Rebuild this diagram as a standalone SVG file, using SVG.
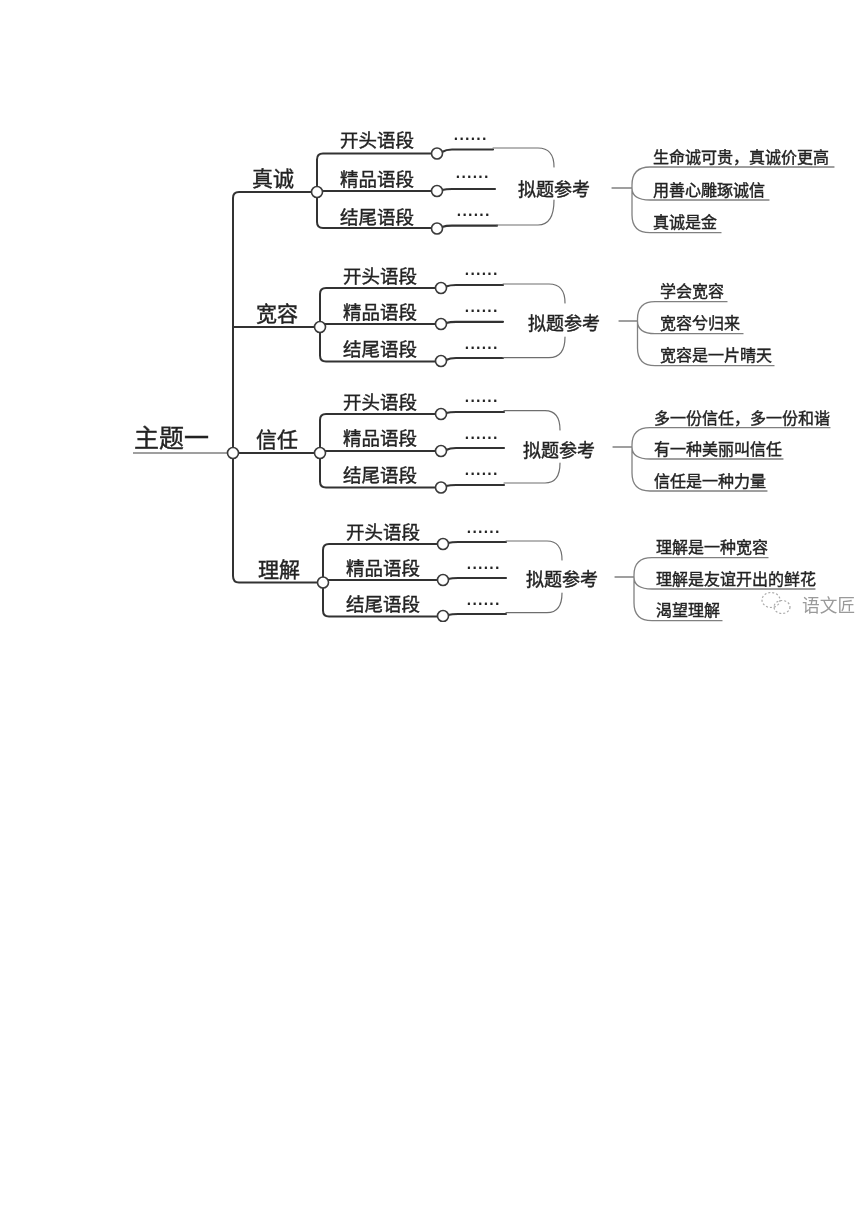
<svg xmlns="http://www.w3.org/2000/svg" width="860" height="1216" viewBox="0 0 860 1216">
<defs>
<style>
text{font-family:"Noto Sans CJK SC","Noto Sans",sans-serif;fill:#222;stroke:#222;stroke-width:.4px}
.root{font-size:25px}
.b{font-size:21px}
.s{font-size:18.500px}
.t{font-size:18px}
.l{font-size:16px}
.d{font-family:"Liberation Sans",sans-serif;font-size:14px;font-weight:700;letter-spacing:1.750px;stroke-width:.2px}
.thick{fill:none;stroke:#333;stroke-width:2;stroke-linecap:round;stroke-linejoin:round}
.end{fill:none;stroke:#333;stroke-width:2.200;stroke-linecap:round}
.thin{fill:none;stroke:#6e6e6e;stroke-width:1.200;stroke-linecap:round}
.rule{fill:none;stroke:#808080;stroke-width:1.300;stroke-linecap:round}
circle.n{fill:#fff;stroke:#3a3a3a;stroke-width:1.600}
</style>
<filter id="soft" x="0" y="0" width="100%" height="100%"><feGaussianBlur stdDeviation="0.35"/></filter>
</defs>
<rect width="860" height="1216" fill="#fff"/>
<g filter="url(#soft)">
<g id="connectors">
<path class="rule" d="M133 453H228"/>
<path class="thick" d="M233 453V198Q233 192 239 192H317M233 327H320M233 453H320M233 453V576Q233 582.500 239 582.500H323"/>
<path class="thick" d="M437 153.500H323Q317 153.500 317 159.500V222Q317 228 323 228H437M317 191H437"/>
<path class="thick" d="M441 288H326Q320 288 320 294V355.500Q320 361.500 326 361.500H441M320 324H441"/>
<path class="thick" d="M441 414H326Q320 414 320 420V481.500Q320 487.500 326 487.500H441M320 451H441"/>
<path class="thick" d="M443 544H329Q323 544 323 550V610.500Q323 616.500 329 616.500H443M323 580H443"/>
<path class="end" d="M442 152Q446 149.500 452 149.500H493M442 190Q446 189 452 189H495M442 227Q446 225.700 452 225.700H497"/>
<path class="end" d="M446 286.500Q450 285 456 285H503M446 323Q450 321.800 456 321.800H503M446 360Q450 358 456 358H503"/>
<path class="end" d="M446 413Q450 412 456 412H504M446 450Q450 448 456 448H504M446 486Q450 485 456 485H504"/>
<path class="end" d="M448 543Q452 542 458 542H506M448 579Q452 578 458 578H506M448 615Q452 614 458 614H506"/>
<path class="thin" d="M493 148H538Q554 148 554 167M497 225H538Q554 225 554 200"/>
<path class="thin" d="M503 284H549Q565 284 565 303M503 357.700H549Q565 357.700 565 337"/>
<path class="thin" d="M504 410.700H545Q560 410.700 560 430M504 483H545Q560 483 560 463"/>
<path class="thin" d="M506 541H547Q562 541 562 560M506 612.700H547Q562 612.700 562 593"/>
<path class="rule" d="M612 188H632M834 167H650Q632 167 632 185V188Q632 200 650 200H769M632 188V215Q632 232.700 650 232.700H721"/>
<path class="rule" d="M619 321H637.500M727 301.700H655Q637.500 301.700 637.500 319V321Q637.500 333.700 655 333.700H743M637.500 321V348Q637.500 365.700 655 365.700H774"/>
<path class="rule" d="M613 447H632M830 427.700H650Q632 427.700 632 445V447Q632 459 650 459H783M632 447V473Q632 491 650 491H767"/>
<path class="rule" d="M615 577H634M768 557.700H652Q634 557.700 634 575V577Q634 589 652 589H815M634 577V603Q634 620.700 652 620.700H722"/>
</g>
<g id="root"><text class="root" x="134" y="447">主题一</text><circle class="n" cx="233" cy="453" r="5.500"/></g>
<g id="b1"><text class="b" x="252" y="186">真诚</text><circle class="n" cx="317" cy="192" r="5.500"/></g>
<g id="b1-s1"><text class="s" x="340" y="147">开头语段</text><circle class="n" cx="437" cy="153.500" r="5.500"/><text class="d" x="454" y="139.500">......</text></g>
<g id="b1-s2"><text class="s" x="340" y="186">精品语段</text><circle class="n" cx="437" cy="191" r="5.500"/><text class="d" x="456" y="177.500">......</text></g>
<g id="b1-s3"><text class="s" x="340" y="224">结尾语段</text><circle class="n" cx="437" cy="228.500" r="5.500"/><text class="d" x="457" y="215.500">......</text></g>
<g id="b1-t"><text class="t" x="518" y="196">拟题参考</text></g>
<g id="b1-r1"><text class="l" x="653" y="163">生命诚可贵，真诚价更高</text></g>
<g id="b1-r2"><text class="l" x="653" y="196">用善心雕琢诚信</text></g>
<g id="b1-r3"><text class="l" x="653" y="228">真诚是金</text></g>
<g id="b2"><text class="b" x="256" y="321">宽容</text><circle class="n" cx="320" cy="327" r="5.500"/></g>
<g id="b2-s1"><text class="s" x="343" y="283">开头语段</text><circle class="n" cx="441" cy="288" r="5.500"/><text class="d" x="465" y="275">......</text></g>
<g id="b2-s2"><text class="s" x="343" y="319">精品语段</text><circle class="n" cx="441" cy="324" r="5.500"/><text class="d" x="465" y="312">......</text></g>
<g id="b2-s3"><text class="s" x="343" y="356">结尾语段</text><circle class="n" cx="441" cy="361" r="5.500"/><text class="d" x="465" y="349">......</text></g>
<g id="b2-t"><text class="t" x="528" y="330">拟题参考</text></g>
<g id="b2-r1"><text class="l" x="660" y="297">学会宽容</text></g>
<g id="b2-r2"><text class="l" x="660" y="329">宽容兮归来</text></g>
<g id="b2-r3"><text class="l" x="660" y="361">宽容是一片晴天</text></g>
<g id="b3"><text class="b" x="256" y="447">信任</text><circle class="n" cx="320" cy="453" r="5.500"/></g>
<g id="b3-s1"><text class="s" x="343" y="409">开头语段</text><circle class="n" cx="441" cy="414" r="5.500"/><text class="d" x="465" y="402">......</text></g>
<g id="b3-s2"><text class="s" x="343" y="445">精品语段</text><circle class="n" cx="441" cy="451" r="5.500"/><text class="d" x="465" y="439">......</text></g>
<g id="b3-s3"><text class="s" x="343" y="482">结尾语段</text><circle class="n" cx="441" cy="487.500" r="5.500"/><text class="d" x="465" y="475">......</text></g>
<g id="b3-t"><text class="t" x="523" y="457">拟题参考</text></g>
<g id="b3-r1"><text class="l" x="654" y="424">多一份信任，多一份和谐</text></g>
<g id="b3-r2"><text class="l" x="654" y="455">有一种美丽叫信任</text></g>
<g id="b3-r3"><text class="l" x="654" y="487">信任是一种力量</text></g>
<g id="b4"><text class="b" x="258" y="577">理解</text><circle class="n" cx="323" cy="582.500" r="5.500"/></g>
<g id="b4-s1"><text class="s" x="346" y="539">开头语段</text><circle class="n" cx="443" cy="544" r="5.500"/><text class="d" x="467" y="533">......</text></g>
<g id="b4-s2"><text class="s" x="346" y="575">精品语段</text><circle class="n" cx="443" cy="580" r="5.500"/><text class="d" x="467" y="568.500">......</text></g>
<g id="b4-s3"><text class="s" x="346" y="611">结尾语段</text><circle class="n" cx="443" cy="616" r="5.500"/><text class="d" x="467" y="604.500">......</text></g>
<g id="b4-t"><text class="t" x="526" y="586">拟题参考</text></g>
<g id="b4-r1"><text class="l" x="656" y="553">理解是一种宽容</text></g>
<g id="b4-r2"><text class="l" x="656" y="585">理解是友谊开出的鲜花</text></g>
<g id="b4-r3"><text class="l" x="656" y="616">渴望理解</text></g>
<g id="watermark"><ellipse cx="771" cy="600" rx="9" ry="7.500" fill="none" stroke="#aaa" stroke-width="1.200" stroke-dasharray="2 2"/><ellipse cx="782" cy="607" rx="8" ry="6.500" fill="none" stroke="#aaa" stroke-width="1.200" stroke-dasharray="2 2"/><text x="802" y="612" style="font-size:17.700px;fill:#9a9a9a;stroke:none">语文匠</text></g>
</g>
</svg>
